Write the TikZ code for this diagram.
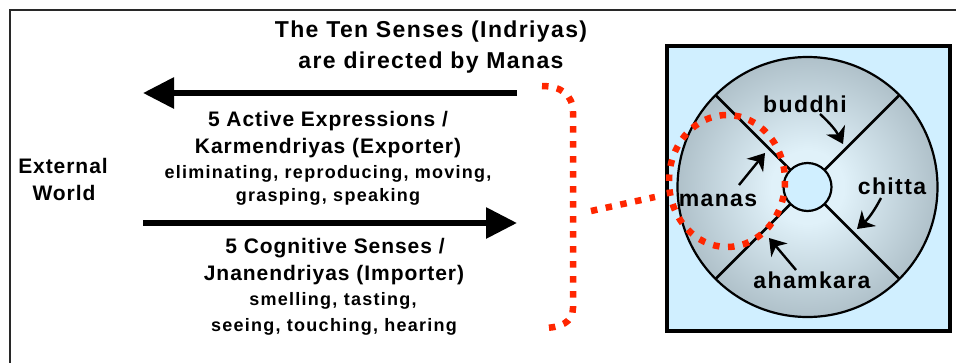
\documentclass[tikz,border=0pt]{standalone}
\usepackage{fontspec}
\setmainfont{Liberation Sans}
\usetikzlibrary{arrows.meta,calc}

\definecolor{dotred}{RGB}{255,38,0}
\definecolor{skyfill}{RGB}{208,239,255}
\definecolor{discin}{RGB}{224,241,249}
\definecolor{discout}{RGB}{108,126,136}
\definecolor{framegray}{RGB}{40,40,40}

\pgfdeclareradialshading{discshade}{\pgfpoint{0bp}{0bp}}{%
  color(0bp)=(discin); color(7bp)=(discin); color(50bp)=(discout)}

\newcommand\titlefont{\fontsize{23}{25}\selectfont\bfseries\addfontfeatures{LetterSpace=6}}
\newcommand\midfont{\fontsize{21}{23}\selectfont\bfseries\addfontfeatures{LetterSpace=4.5}}
\newcommand\smallfont{\fontsize{18}{20}\selectfont\bfseries\addfontfeatures{LetterSpace=7}}
\newcommand\discfont{\fontsize{23}{25}\selectfont\bfseries\addfontfeatures{LetterSpace=6}}

\begin{document}
\begin{tikzpicture}[x=1pt,y=-1pt,
  txt/.style={inner sep=0pt,anchor=base},
  flow/.style={line width=6pt,-{Triangle[length=31pt,width=30pt]}},
  pointer/.style={line width=2.4pt,-{Stealth[length=16pt,width=21pt,inset=5pt]}},
  reddots/.style={dotred,line width=6.5pt,dash pattern=on 6.5pt off 8.5pt},
  spoke/.style={line width=2.6pt}]
\useasboundingbox (0,0) rectangle (956,362);

% open frame round the whole figure
\draw[framegray,line width=2pt] (10,370) -- (10,10) -- (970,10);

% heading
\node[txt] (head1) at (431,37) {\titlefont The Ten Senses (Indriyas)};
\node[txt] (head2) at (431,68) {\titlefont are directed by Manas};

% outside world
\node[txt] (ext1) at (63,173) {\midfont External};
\node[txt] (ext2) at (64,200) {\midfont World};

% outgoing senses
\coordinate (outR) at (517,93);
\coordinate (outL) at (143,93);
\draw[flow] (outR) -- (outL);
\node[txt] (act1) at (328,126) {\midfont 5 Active Expressions /};
\node[txt] (act2) at (328,153) {\midfont Karmendriyas (Exporter)};
\node[txt] (act3) at (328,178) {\smallfont eliminating, reproducing, moving,};
\node[txt] (act4) at (328,201) {\smallfont grasping, speaking};

% incoming senses
\coordinate (inL) at (143,223);
\coordinate (inR) at (517,223);
\draw[flow] (inL) -- (inR);
\node[txt] (cog1) at (335,253) {\midfont 5 Cognitive Senses /};
\node[txt] (cog2) at (334,280) {\midfont Jnanendriyas (Importer)};
\node[txt] (cog3) at (333,305) {\smallfont smelling, tasting,};
\node[txt] (cog4) at (334,331) {\smallfont seeing, touching, hearing};

% mind panel
\draw[line width=4.5pt,fill=skyfill] (667,46) rectangle (950,331);
\coordinate (mid) at (807.5,187);
\shade[shading=discshade] (mid) circle[radius=130];
\draw[line width=2.2pt] (mid) circle[radius=130];
\foreach \a in {45,135,225,315}
  \draw[spoke] ($(mid)+(\a:24)$) -- ($(mid)+(\a:130)$);
\draw[line width=2.2pt,fill=skyfill] (mid) circle[radius=24];

% the four faculties
\node[txt] (buddhi) at (805,112) {\discfont buddhi};
\node[txt] (chitta) at (892,194) {\discfont chitta};
\node[txt] (manas) at (718,206) {\discfont manas};
\node[txt] (ahamkara) at (812,288) {\discfont ahamkara};

\coordinate (bS) at (820,114); \coordinate (bT) at (843,144);
\coordinate (mS) at (739,185); \coordinate (mT) at (765,153);
\coordinate (cS) at (881,198); \coordinate (cT) at (857,229);
\coordinate (hS) at (796,270); \coordinate (hT) at (769,238);
\draw[pointer] (bS) to[bend left=10] (bT);
\draw[pointer] (mS) -- (mT);
\draw[pointer] (cS) to[bend left=10] (cT);
\draw[pointer] (hS) -- (hT);

% manas highlight and its link to the senses
\draw[reddots] (727,181) ellipse[x radius=58,y radius=66];
\coordinate (brTop) at (542,86);
\coordinate (brBot) at (542,328);
\coordinate (brMid) at (591,211);
\coordinate (toManas) at (655,197);
\draw[reddots] (brTop) .. controls (561,86) and (573,95) .. (573,112)
  -- (573,308) .. controls (573,322) and (561,328) .. (brBot);
\draw[reddots] (brMid) -- (toManas);
\end{tikzpicture}
\end{document}
